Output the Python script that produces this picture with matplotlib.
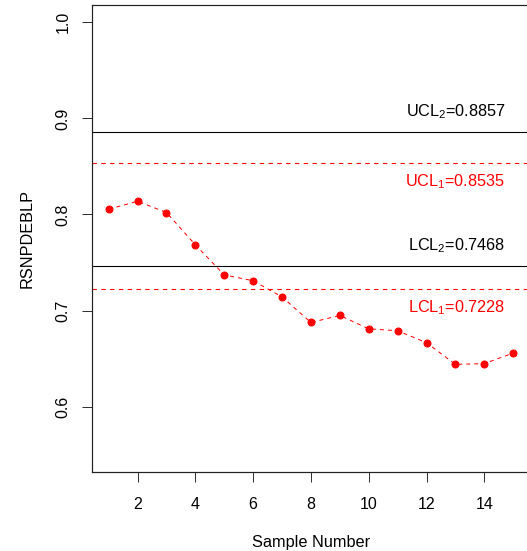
import matplotlib
matplotlib.use("Agg")
import matplotlib.pyplot as plt

# Data
samples = list(range(1, 16))
values = [0.8055, 0.8138, 0.8020, 0.7684, 0.7371, 0.7310, 0.7142, 0.6876,
          0.6949, 0.6810, 0.6790, 0.6665, 0.6440, 0.6448, 0.6558]
limit_names = ["UCL$_2$=0.8857", "UCL$_1$=0.8535", "LCL$_2$=0.7468", "LCL$_1$=0.7228"]
limit_values = [0.8857, 0.8535, 0.7468, 0.7228]
limit_colors = ["#000000", "#FF0000", "#000000", "#FF0000"]
limit_styles = ["solid", "dashed", "solid", "dashed"]
label_offsets = [20, -19, 20, -19]
xticks = [2, 4, 6, 8, 10, 12, 14]
yticks = [0.6, 0.7, 0.8, 0.9, 1.0]

plt.rcParams['font.family'] = ['Liberation Sans', 'DejaVu Sans']
plt.rcParams['mathtext.fontset'] = 'custom'
plt.rcParams['mathtext.rm'] = 'Liberation Sans'

W, H = 527, 551
fig = plt.figure(figsize=(W / 72, H / 72), dpi=72)
ax = fig.add_axes([92.5 / W, (H - 472) / H, (529.4 - 92.5) / W, (472 - 5) / H])

ax.plot(samples, values, color="#FF0000", linestyle=(0, (4, 4)), linewidth=1,
        marker="o", markersize=7, markerfacecolor="#FF0000", markeredgecolor="#FF0000")

for name, v, c, s, off in zip(limit_names, limit_values, limit_colors, limit_styles, label_offsets):
    ls = (0, (4, 4)) if s == "dashed" else "-"
    ax.axhline(v, color=c, linestyle=ls, linewidth=1.1, snap=True)
    ax.annotate(name, xy=(15, v), xytext=(-8, off), textcoords="offset points",
                ha="right", va="center", color=c, fontsize=16.3)

ax.set_xlim(0.44, 15.56)
ax.set_ylim(0.532, 1.018)
ax.set_xticks(xticks)
ax.set_xticklabels([str(t) for t in xticks])
ax.set_yticks(yticks)
ax.set_yticklabels([f"{t:.1f}" for t in yticks], rotation=90, va="center")
ax.tick_params(axis="both", length=10, width=1, labelsize=16, color="#333333")
ax.tick_params(axis="x", pad=15)
ax.tick_params(axis="y", pad=12)
for sp in ax.spines.values():
    sp.set_linewidth(1.2)
    sp.set_color("#222222")

fig.text(311 / W, 1 - 542 / H, "Sample Number", ha="center", va="center", fontsize=16.3)
fig.text(27 / W, 1 - 238.5 / H, "RSNPDEBLP", ha="center", va="center", rotation=90, fontsize=16.3)

fig.savefig("out.png", dpi=72)
